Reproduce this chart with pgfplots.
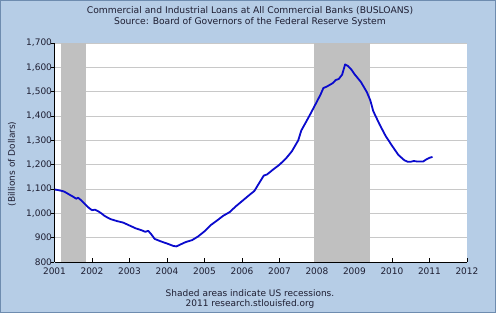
\documentclass[border=0pt]{standalone}
\usepackage{pgfplots}
\pgfplotsset{compat=1.18}
\usepackage{fontspec}
\setmainfont{DejaVu Sans}
\definecolor{bgblue}{RGB}{182,205,230}
\definecolor{frameblue}{RGB}{110,140,175}
\definecolor{recgray}{RGB}{192,192,192}
\definecolor{gridgray}{RGB}{200,200,200}
\definecolor{lineblue}{RGB}{10,10,205}
\definecolor{txt}{RGB}{30,30,50}
\begin{document}
\begin{tikzpicture}
\fill[bgblue] (0pt,0pt) rectangle (496pt,313pt);
\draw[frameblue,line width=1pt] (0.5pt,0.5pt) rectangle (495.5pt,312.5pt);
\begin{axis}[
  at={(54.5pt,51pt)}, anchor=south west,
  scale only axis, width=412.5pt, height=219pt,
  xmin=2001, xmax=2012, ymin=800, ymax=1700,
  axis background/.style={fill=white},
  axis x line*=bottom, axis y line*=left,
  axis line style={-, black, line width=0.8pt},
  xtick={2001,...,2012}, ytick={800,900,...,1700},
  ymajorgrids, grid style={gridgray, line width=0.8pt},
  tick align=inside, major tick length=4pt,
  tick style={black, line width=0.6pt},
  ytick style={xshift=-4pt},
  xticklabel style={/pgf/number format/1000 sep={}, yshift=-2pt},
  yticklabel style={/pgf/number format/1000 sep={,}, xshift=1pt},
  /pgf/number format/assume math mode=true,
  tick label style={font=\fontsize{9}{11}\selectfont, text=txt},
]
\addplot[fill=recgray, draw=none] coordinates {(2001.167,800) (2001.833,800) (2001.833,1700) (2001.167,1700)} -- cycle;
\addplot[fill=recgray, draw=none] coordinates {(2007.917,800) (2009.417,800) (2009.417,1700) (2007.917,1700)} -- cycle;
\addplot[lineblue, line width=1.8pt, line join=round] table {
x y
2001.00 1098
2001.08 1096
2001.17 1093
2001.25 1090
2001.33 1083
2001.42 1075
2001.50 1068
2001.58 1060
2001.63 1064
2001.70 1055
2001.83 1035
2001.92 1022
2002.00 1013
2002.08 1015
2002.17 1008
2002.25 1000
2002.33 990
2002.42 982
2002.50 976
2002.67 968
2002.83 962
2003.00 950
2003.17 938
2003.33 930
2003.42 924
2003.50 928
2003.58 914
2003.67 895
2003.83 885
2004.00 876
2004.17 866
2004.25 864
2004.33 870
2004.50 882
2004.67 890
2004.83 905
2005.00 926
2005.17 952
2005.33 970
2005.50 990
2005.67 1005
2005.83 1028
2006.00 1050
2006.17 1072
2006.33 1092
2006.50 1135
2006.58 1155
2006.67 1160
2006.83 1180
2007.00 1200
2007.17 1225
2007.33 1255
2007.50 1300
2007.58 1340
2007.67 1365
2007.83 1410
2008.00 1460
2008.10 1490
2008.17 1515
2008.25 1520
2008.42 1535
2008.50 1548
2008.58 1552
2008.67 1570
2008.75 1612
2008.83 1605
2008.92 1590
2009.00 1572
2009.17 1540
2009.33 1498
2009.42 1465
2009.50 1420
2009.67 1365
2009.83 1318
2010.00 1278
2010.17 1240
2010.33 1218
2010.42 1212
2010.50 1212
2010.58 1215
2010.67 1213
2010.83 1213
2010.92 1222
2011.00 1228
2011.08 1232
};
\end{axis}
\node[text=txt, font=\fontsize{9.2}{11}\selectfont] at (250pt,302pt) {Commercial and Industrial Loans at All Commercial Banks (BUSLOANS)};
\node[text=txt, font=\fontsize{9.2}{11}\selectfont] at (250pt,291pt) {Source: Board of Governors of the Federal Reserve System};
\node[text=txt, font=\fontsize{9}{11}\selectfont, rotate=90] at (12pt,149pt) {(Billions of Dollars)};
\node[text=txt, font=\fontsize{9}{11}\selectfont] at (250pt,20pt) {Shaded areas indicate US recessions.};
\node[text=txt, font=\fontsize{9}{11}\selectfont] at (250pt,9pt) {2011 research.stlouisfed.org};
\end{tikzpicture}
\end{document}
